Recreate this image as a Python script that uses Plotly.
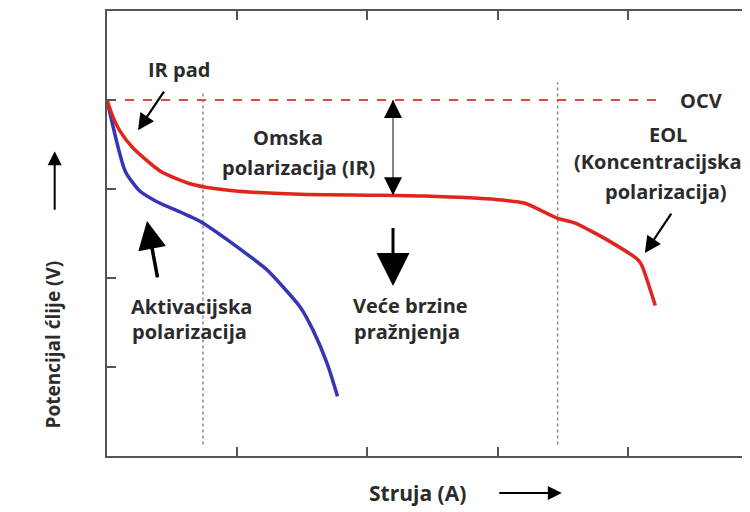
import plotly.graph_objects as go

# ---- data ----
red_x = [0.0, 0.046, 0.10, 0.20, 0.41, 0.66, 0.97, 1.48, 2.06, 2.44, 3.0, 3.21, 3.46, 3.59, 3.85, 4.08, 4.11, 4.21]
red_y = [4.0, 3.81, 3.65, 3.46, 3.20, 3.05, 2.98, 2.94, 2.93, 2.92, 2.88, 2.84, 2.67, 2.62, 2.42, 2.20, 2.13, 1.69]

blue_x = [0.0, 0.14, 0.25, 0.38, 0.71, 1.10, 1.23, 1.48, 1.58, 1.69, 1.77]
blue_y = [4.0, 3.20, 2.98, 2.86, 2.64, 2.24, 2.09, 1.68, 1.42, 1.04, 0.67]

ocv_x = [0.0, 4.23]
ocv_y = [4.0, 4.0]

vline1_x = [0.737, 0.737]
vline1_y = [0.13, 4.09]
vline2_x = [3.46, 3.46]
vline2_y = [0.13, 4.2]

ir_x = [2.196, 2.196]
ir_y = [2.93, 4.0]

tick_vals = [1, 2, 3, 4]

TXT = "#2b2b2b"
FONT = dict(family="Open Sans", size=20, color=TXT, weight="bold")

fig = go.Figure()
fig.add_trace(go.Scatter(x=vline1_x, y=vline1_y, mode="lines",
                         line=dict(color="#8a8a8a", width=1.5, dash="dot"), hoverinfo="skip"))
fig.add_trace(go.Scatter(x=vline2_x, y=vline2_y, mode="lines",
                         line=dict(color="#8a8a8a", width=1.5, dash="dot"), hoverinfo="skip"))
fig.add_trace(go.Scatter(x=ocv_x, y=ocv_y, mode="lines",
                         line=dict(color="#e4463c", width=2.2, dash="dash"), hoverinfo="skip"))
fig.add_trace(go.Scatter(x=ir_x, y=ir_y, mode="lines",
                         line=dict(color="#777777", width=1.8), hoverinfo="skip"))
fig.add_trace(go.Scatter(x=blue_x, y=blue_y, mode="lines",
                         line=dict(color="#3535b5", width=3.5, shape="spline", smoothing=0.6), hoverinfo="skip"))
fig.add_trace(go.Scatter(x=red_x, y=red_y, mode="lines",
                         line=dict(color="#e0261c", width=3.5, shape="spline", smoothing=0.6), hoverinfo="skip"))

def txt(x, y, s, size=20):
    f = dict(FONT)
    f["size"] = size
    fig.add_annotation(x=x, y=y, text=s, showarrow=False, font=f,
                       xref="x", yref="y", xanchor="center", yanchor="middle")

def arr(x, y, ax, ay, width=2, size=1.0, color="black"):
    fig.add_annotation(x=x, y=y, ax=ax, ay=ay, xref="x", yref="y", axref="x", ayref="y",
                       text="", showarrow=True, arrowhead=2, arrowsize=size,
                       arrowwidth=width, arrowcolor=color,
                       standoff=0, startstandoff=0)

txt(0.553, 4.34, "IR pad")
txt(1.39, 3.58, "Omska")
txt(1.474, 3.244, "polarizacija (IR)")
txt(4.56, 4.0, "OCV")
txt(4.307, 3.61, "EOL")
txt(4.23, 3.31, "(Koncentracijska")
txt(4.29, 2.975, "polarizacija)")
txt(0.645, 1.68, "Aktivacijska")
txt(0.637, 1.40, "polarizacija")
txt(2.334, 1.69, "Veće brzine")
txt(2.30, 1.40, "pražnjenja")

arr(0.238, 3.66, 0.445, 4.11, width=2.2, size=1.5)
arr(4.13, 2.28, 4.34, 2.74, width=2.2, size=1.5)
arr(0.307, 2.64, 0.39, 1.99, width=3.5, size=1.6)
arr(2.196, 1.91, 2.196, 2.58, width=3, size=2.2)
# black heads on the IR double arrow
arr(2.196, 4.0, 2.196, 3.88, width=1.8, size=2.0)
arr(2.196, 2.93, 2.196, 3.05, width=1.8, size=2.0)

# axis titles (paper coordinates, outside plot)
fy = dict(FONT); fy["size"] = 19
fig.add_annotation(x=-0.0836, y=0.2506, xref="paper", yref="paper", text="Potencijal ćlije (V)",
                   textangle=-90, showarrow=False, font=fy, xanchor="center", yanchor="middle")
fig.add_annotation(x=-0.081, y=0.685, xref="paper", yref="paper", text="", showarrow=True,
                   ax=0, ay=60, axref="pixel", ayref="pixel", arrowhead=2, arrowsize=1.4,
                   arrowwidth=2, arrowcolor="black", standoff=0)
fx = dict(FONT); fx["size"] = 21
fig.add_annotation(x=0.481, y=-0.083, xref="paper", yref="paper", text="Struja (A)",
                   showarrow=False, font=fx, xanchor="center", yanchor="middle")
fig.add_annotation(x=0.704, y=-0.083, xref="paper", yref="paper", text="", showarrow=True,
                   ax=-64, ay=0, axref="pixel", ayref="pixel", arrowhead=2, arrowsize=1.4,
                   arrowwidth=2, arrowcolor="black", standoff=0)

axis_common = dict(showline=True, linecolor="#555555", linewidth=2, mirror="ticks",
                   ticks="inside", ticklen=9, tickwidth=2, tickcolor="#555555",
                   tickvals=tick_vals, showticklabels=False, showgrid=False, zeroline=False)

# the page body adds an 8px offset; margins compensate so the frame lands where it should
fig.update_layout(
    width=750, height=512,
    margin=dict(l=99, r=5, t=1, b=64),
    plot_bgcolor="white", paper_bgcolor="white",
    showlegend=False,
    xaxis=dict(range=[0, 4.96], **axis_common),
    yaxis=dict(range=[0, 5.0], **axis_common),
)

fig.write_html("out.html")
